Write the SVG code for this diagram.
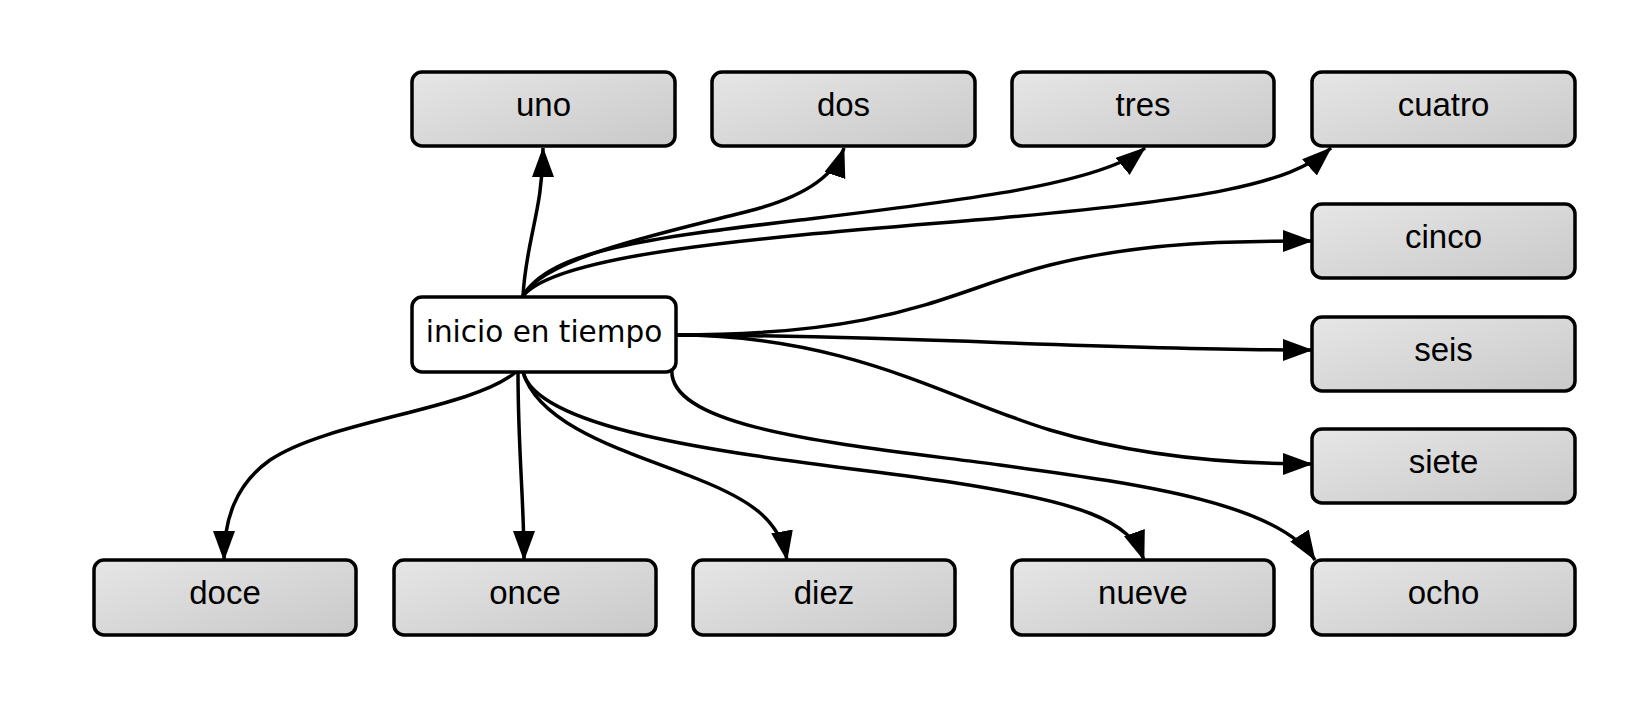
<svg xmlns="http://www.w3.org/2000/svg" width="1650" height="713" viewBox="0 0 1650 713">
<defs>
<linearGradient id="g" x1="0" y1="0" x2="1" y2="1">
<stop offset="0" stop-color="#e6e6e6"/>
<stop offset="1" stop-color="#c9c9c9"/>
</linearGradient>
<marker id="ah" markerUnits="userSpaceOnUse" markerWidth="32" markerHeight="24" refX="29" refY="11" orient="auto" viewBox="0 0 32 24">
<path d="M0,0 L30,11 L0,22 z" fill="#000"/>
</marker>
<style>
.n rect{fill:url(#g);stroke:#000;stroke-width:3.5}
.n text{font-family:"Liberation Sans",Arial,sans-serif;font-size:33px;fill:#000;text-anchor:middle}
.m rect{fill:#fff;stroke:#000;stroke-width:3.5}
.m text{font-family:"DejaVu Sans",sans-serif;font-size:29.5px;fill:#000;text-anchor:middle}
.c path{fill:none;stroke:#000;stroke-width:3.5;marker-end:url(#ah)}
</style>
</defs>
<rect width="1650" height="713" fill="#fff"/>
<g class="c" id="connectors">
<path d="M523,296 C526,240 543,210 543,148"/>
<path d="M523,296 C545,255 680,230 760,208 C805,195 835,175 844,148"/>
<path d="M523,296 C550,250 650,238 800,220 C950,202 1100,185 1145,148"/>
<path d="M523,296 C560,250 800,235 1000,218 C1200,200 1290,185 1331,148"/>
<path d="M675,335 C900,335 950,290 1050,265 C1150,240 1250,241 1312,241"/>
<path d="M675,335 C900,335 1100,350 1312,350"/>
<path d="M675,335 C850,335 950,400 1050,430 C1150,460 1250,464 1312,464"/>
<path d="M672,368 C665,430 850,445 1000,465 C1150,485 1280,505 1315,560"/>
<path d="M523,372 C540,440 800,460 950,482 C1080,502 1130,520 1144,560"/>
<path d="M523,372 C540,430 640,455 700,480 C750,500 780,520 787,560"/>
<path d="M518,372 C518,450 524,500 524,560"/>
<path d="M516,372 C470,410 330,420 270,460 C235,485 224,520 224,560"/>
</g>
<g class="m" id="inicio"><rect x="412" y="297" width="264" height="75" rx="10"/><text x="544" y="342">inicio en tiempo</text></g>
<g class="n" id="uno"><rect x="412" y="72" width="263" height="74" rx="10"/><text x="543.5" y="116">uno</text></g>
<g class="n" id="dos"><rect x="712" y="72" width="263" height="74" rx="10"/><text x="843.5" y="116">dos</text></g>
<g class="n" id="tres"><rect x="1012" y="72" width="262" height="74" rx="10"/><text x="1143" y="116">tres</text></g>
<g class="n" id="cuatro"><rect x="1312" y="72" width="263" height="74" rx="10"/><text x="1443.5" y="116">cuatro</text></g>
<g class="n" id="cinco"><rect x="1312" y="204" width="263" height="74" rx="10"/><text x="1443.5" y="248">cinco</text></g>
<g class="n" id="seis"><rect x="1312" y="317" width="263" height="74" rx="10"/><text x="1443.5" y="361">seis</text></g>
<g class="n" id="siete"><rect x="1312" y="429" width="263" height="74" rx="10"/><text x="1443.5" y="473">siete</text></g>
<g class="n" id="ocho"><rect x="1312" y="560" width="263" height="75" rx="10"/><text x="1443.5" y="604">ocho</text></g>
<g class="n" id="nueve"><rect x="1012" y="560" width="262" height="75" rx="10"/><text x="1143" y="604">nueve</text></g>
<g class="n" id="diez"><rect x="693" y="560" width="262" height="75" rx="10"/><text x="824" y="604">diez</text></g>
<g class="n" id="once"><rect x="394" y="560" width="262" height="75" rx="10"/><text x="525" y="604">once</text></g>
<g class="n" id="doce"><rect x="94" y="560" width="262" height="75" rx="10"/><text x="225" y="604">doce</text></g>
</svg>
